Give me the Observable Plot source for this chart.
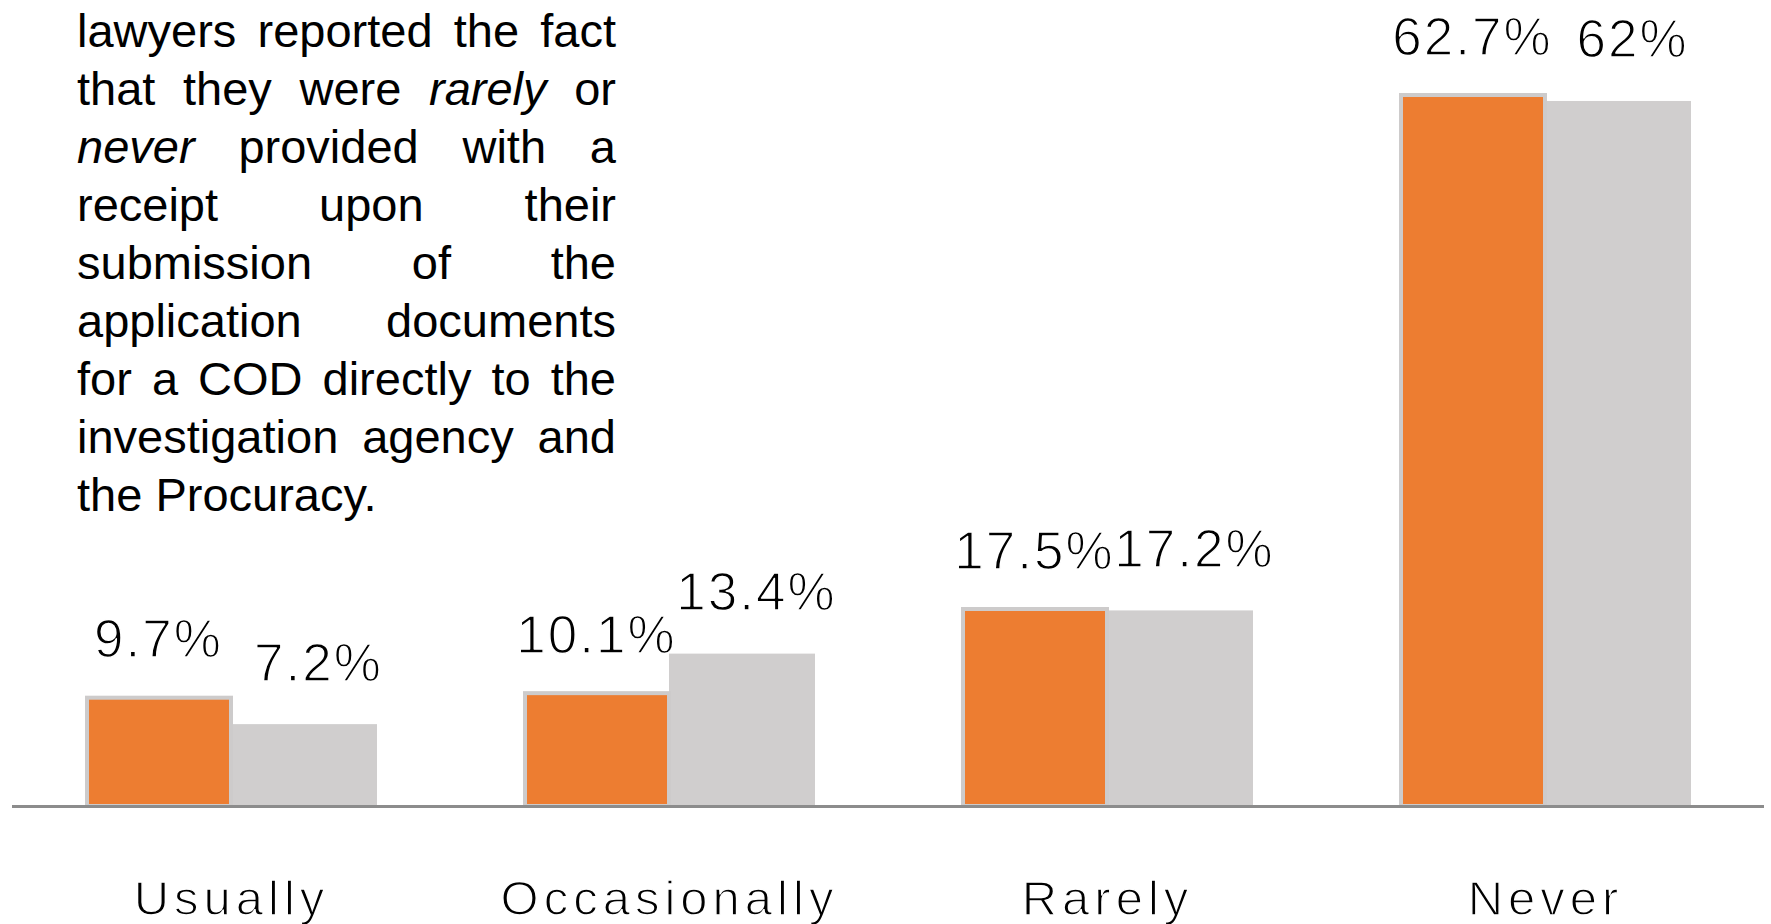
<!DOCTYPE html>
<html>
<head>
<meta charset="utf-8">
<script src="https://cdn.jsdelivr.net/npm/d3@7"></script>
<script src="https://cdn.jsdelivr.net/npm/@observablehq/plot@0.6"></script>
<style>
  html, body { margin: 0; padding: 0; background: #fff; }
  #wrap { position: relative; width: 1771px; height: 924px; overflow: hidden; }
  #note {
    position: absolute; left: 77px; top: 2px; width: 539px;
    font-family: "Liberation Sans", Arial, sans-serif; font-size: 47px; line-height: 58px;
    color: #000;
  }
  #note .j { text-align: justify; text-align-last: justify; white-space: nowrap; }
  #note .l { text-align: left; white-space: nowrap; }
  g[aria-label="fx-axis tick label"] text {
    font-size: 49px; letter-spacing: 5px;
    stroke: #fff; stroke-width: 1.4px; paint-order: normal;
  }
  g[aria-label="text"] text { letter-spacing: 2px; }
</style>
</head>
<body>
<div id="wrap">
  <div id="chart"></div>
  <div id="note"></div>
</div>
<script>
const categories = ["Usually", "Occasionally", "Rarely", "Never"];
const seriesNames = ["Series 1", "Series 2"];
const series1 = [9.7, 10.1, 17.5, 62.7];
const series2 = [7.2, 13.4, 17.2, 62];
const noteLines = [
  "lawyers reported the fact",
  "that they were <i>rarely</i> or",
  "<i>never</i> provided with a",
  "receipt upon their",
  "submission of the",
  "application documents",
  "for a COD directly to the",
  "investigation agency and",
  "the Procuracy."
];

const rows = [];
categories.forEach((c, i) => {
  rows.push({category: c, series: seriesNames[0], value: series1[i]});
  rows.push({category: c, series: seriesNames[1], value: series2[i]});
});

const font = '"Liberation Sans", Arial, sans-serif';

const chart = Plot.plot({
  width: 1771,
  height: 924,
  marginLeft: 12,
  marginRight: 7,
  marginTop: 10,
  marginBottom: 118,
  style: {fontFamily: font, background: "#fff", color: "#000"},
  fx: {domain: categories, padding: 0, label: null, axis: "bottom", tickSize: 0, tickPadding: 74},
  x: {domain: seriesNames, paddingInner: 0, paddingOuter: 0.495, axis: null},
  y: {domain: [0, 70], axis: null},
  color: {domain: seriesNames, range: ["#ED7D31", "#D0CECE"]},
  marks: [
    Plot.barY(rows, {filter: d => d.series === seriesNames[1], fx: "category", x: "series", y: "value", fill: "series"}),
    Plot.barY(rows, {filter: d => d.series === seriesNames[0], fx: "category", x: "series", y: "value", fill: "series",
      stroke: "#CDCBCB", strokeWidth: 4, insetLeft: 2, insetTop: 2}),
    Plot.text(rows, {filter: d => d.series === seriesNames[0], fx: "category", x: "series", y: "value",
      text: d => d.value + "%", lineAnchor: "bottom", dy: -39, fontSize: 53, fill: "#000",
      stroke: "#fff", strokeWidth: 1.4, paintOrder: "normal"}),
    Plot.text(rows, {filter: d => d.series === seriesNames[1], fx: "category", x: "series", y: "value",
      text: d => d.value + "%", lineAnchor: "bottom", dy: -44, dx: 14, fontSize: 53, fill: "#000",
      stroke: "#fff", strokeWidth: 1.4, paintOrder: "normal"}),
    Plot.ruleY([0], {stroke: "#8C8C8C", strokeWidth: 3})
  ]
});
document.getElementById("chart").appendChild(chart);

const note = document.getElementById("note");
noteLines.forEach((t, i) => {
  const div = document.createElement("div");
  div.className = i === noteLines.length - 1 ? "l" : "j";
  div.innerHTML = t;
  note.appendChild(div);
});
</script>
</body>
</html>
